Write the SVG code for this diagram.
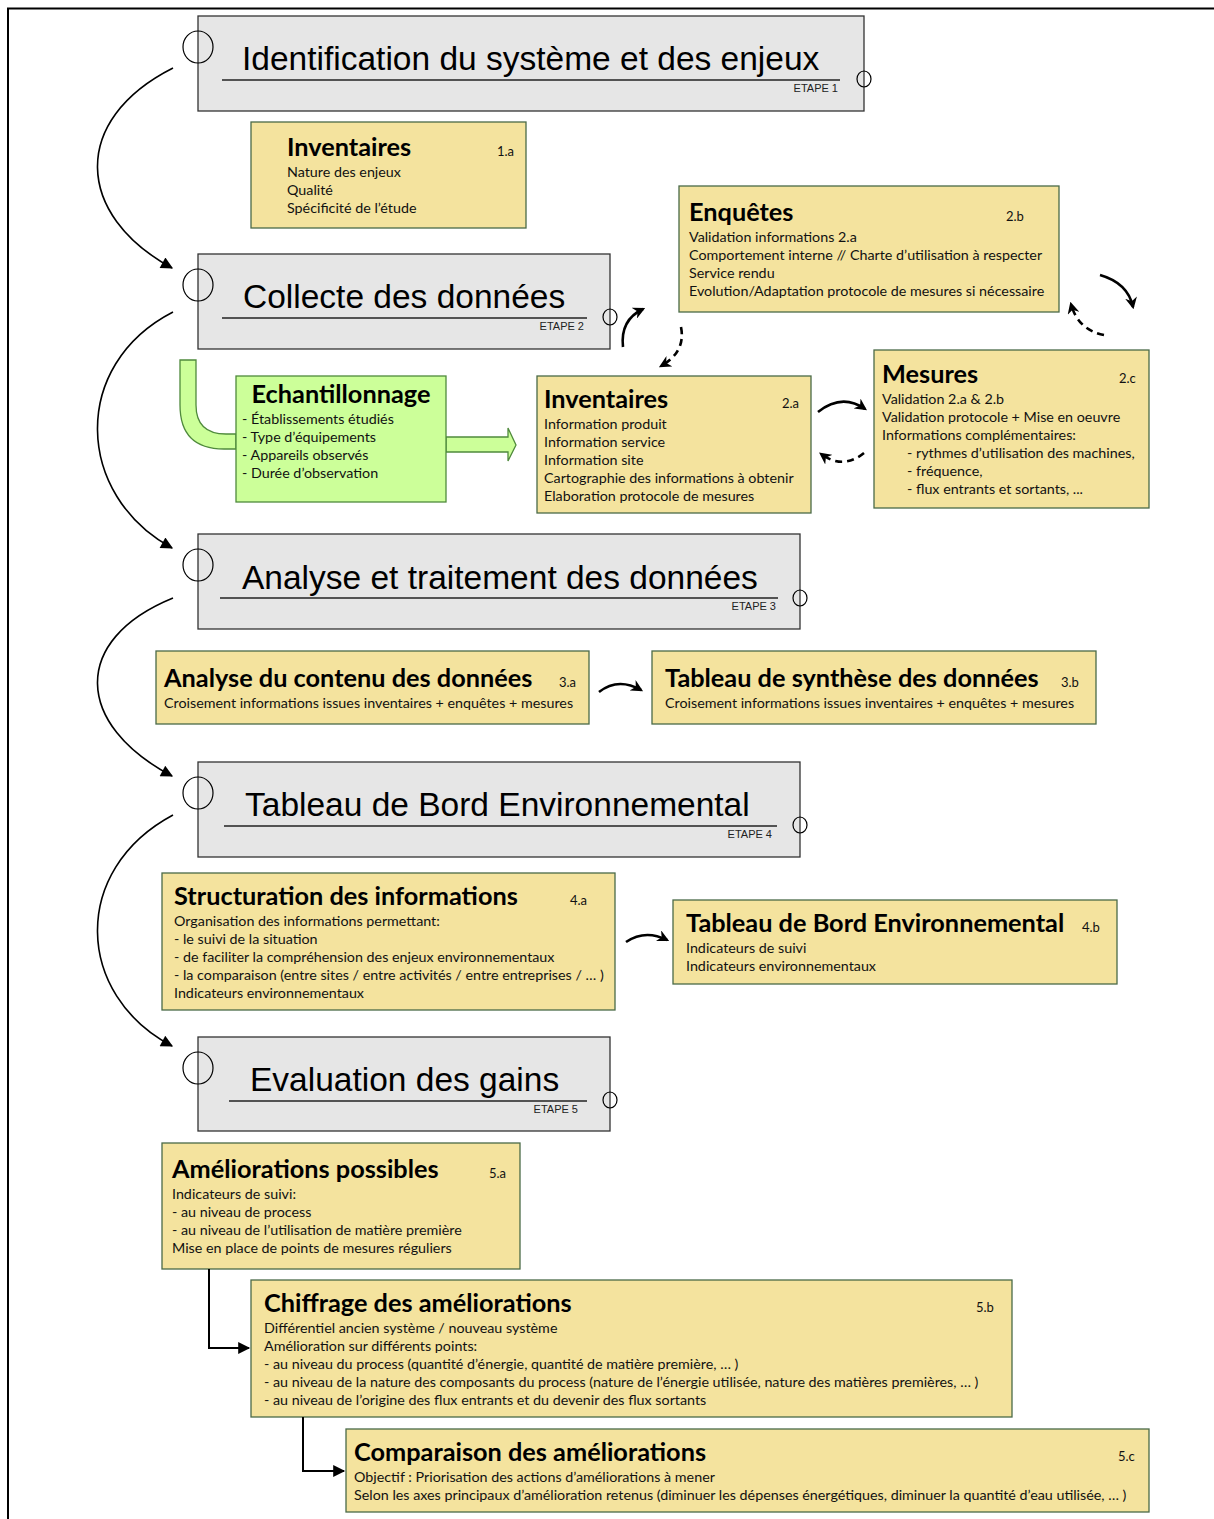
<svg xmlns="http://www.w3.org/2000/svg" width="1214" height="1519" viewBox="0 0 1214 1519">
<defs>
<style>
.step{fill:#e6e6e6;stroke:#333;stroke-width:1.3}
.ttl{font-family:"Liberation Sans",Arial,sans-serif;font-size:33.5px;fill:#000}
.etape{font-family:"Liberation Sans",Arial,sans-serif;font-size:11px;fill:#222;text-anchor:end}
.ul{stroke:#222;stroke-width:1.3}
.ring{fill:none;stroke:#000;stroke-width:1.2}
.box{fill:#f4e39e;stroke:#4a6a48;stroke-width:1.3}
.gbox{fill:#ccff99;stroke:#4f8a3c;stroke-width:1.3}
.h{font-family:Lato,"Open Sans",sans-serif;font-weight:bold;font-size:25.3px;fill:#000}
.num{font-family:Lato,"Open Sans",sans-serif;font-size:13px;fill:#111}
.t{font-family:Lato,"Open Sans",sans-serif;font-size:14.3px;fill:#111}
.big{fill:none;stroke:#000;stroke-width:1.6}
.cyc{fill:none;stroke:#000;stroke-width:2.6}
.dash{stroke-dasharray:7 5}
.elb{fill:none;stroke:#000;stroke-width:2}
</style>
<marker id="ah" viewBox="0 0 10 10" refX="9" refY="5" markerWidth="15" markerHeight="12" markerUnits="userSpaceOnUse" orient="auto"><path d="M0,0 L10,5 L0,10 z" fill="#000"/></marker>
<marker id="ahs" viewBox="0 0 10 10" refX="8" refY="5" markerWidth="12" markerHeight="12" markerUnits="userSpaceOnUse" orient="auto"><path d="M0,0 L10,5 L0,10 L3,5 z" fill="#000"/></marker>
</defs>
<rect width="1214" height="1519" fill="#fff"/>
<g id="frame"><path d="M7,8.5 H1214 M8,8 V1519" stroke="#000" stroke-width="2" fill="none"/></g>

<g id="step1">
<rect class="step" x="198" y="16" width="666" height="95"/>
<text class="ttl" x="242" y="70">Identification du système et des enjeux</text>
<line class="ul" x1="222" y1="80" x2="840" y2="80"/>
<text class="etape" x="838" y="92">ETAPE 1</text>
<ellipse class="ring" cx="198" cy="47" rx="15" ry="16"/>
<ellipse class="ring" cx="864" cy="79" rx="7" ry="8"/>
</g>
<g id="step2">
<rect class="step" x="198" y="254" width="412" height="95"/>
<text class="ttl" x="243" y="308">Collecte des données</text>
<line class="ul" x1="222" y1="318" x2="587" y2="318"/>
<text class="etape" x="584" y="330">ETAPE 2</text>
<ellipse class="ring" cx="198" cy="285" rx="15" ry="16"/>
<ellipse class="ring" cx="610" cy="317" rx="7" ry="8"/>
</g>
<g id="step3">
<rect class="step" x="198" y="534" width="602" height="95"/>
<text class="ttl" x="242" y="589">Analyse et traitement des données</text>
<line class="ul" x1="220" y1="598" x2="778" y2="598"/>
<text class="etape" x="776" y="610">ETAPE 3</text>
<ellipse class="ring" cx="198" cy="565" rx="15" ry="16"/>
<ellipse class="ring" cx="800" cy="598" rx="7" ry="8"/>
</g>
<g id="step4">
<rect class="step" x="198" y="762" width="602" height="95"/>
<text class="ttl" x="245" y="816">Tableau de Bord Environnemental</text>
<line class="ul" x1="224" y1="826" x2="777" y2="826"/>
<text class="etape" x="772" y="838">ETAPE 4</text>
<ellipse class="ring" cx="198" cy="793" rx="15" ry="16"/>
<ellipse class="ring" cx="800" cy="825" rx="7" ry="8"/>
</g>
<g id="step5">
<rect class="step" x="198" y="1037" width="412" height="94"/>
<text class="ttl" x="250" y="1091">Evaluation des gains</text>
<line class="ul" x1="229" y1="1101" x2="587" y2="1101"/>
<text class="etape" x="578" y="1113">ETAPE 5</text>
<ellipse class="ring" cx="198" cy="1068" rx="15" ry="16"/>
<ellipse class="ring" cx="610" cy="1100" rx="7" ry="8"/>
</g>

<g id="n1a">
<rect class="box" x="251" y="122" width="275" height="106"/>
<text class="h" x="287" y="156">Inventaires</text>
<text class="num" x="497" y="156">1.a</text>
<text class="t" x="287" y="177">Nature des enjeux</text>
<text class="t" x="287" y="195">Qualité</text>
<text class="t" x="287" y="213">Spécificité de l’étude</text>
</g>
<g id="n2b">
<rect class="box" x="679" y="186" width="380" height="126"/>
<text class="h" x="689" y="221">Enquêtes</text>
<text class="num" x="1006" y="221">2.b</text>
<text class="t" x="689" y="242">Validation informations 2.a</text>
<text class="t" x="689" y="260">Comportement interne // Charte d’utilisation à respecter</text>
<text class="t" x="689" y="278">Service rendu</text>
<text class="t" x="689" y="296">Evolution/Adaptation protocole de mesures si nécessaire</text>
</g>
<g id="n2a">
<rect class="box" x="537" y="376" width="274" height="137"/>
<text class="h" x="544" y="408">Inventaires</text>
<text class="num" x="782" y="408">2.a</text>
<text class="t" x="544" y="429">Information produit</text>
<text class="t" x="544" y="447">Information service</text>
<text class="t" x="544" y="465">Information site</text>
<text class="t" x="544" y="483">Cartographie des informations à obtenir</text>
<text class="t" x="544" y="501">Elaboration protocole de mesures</text>
</g>
<g id="n2c">
<rect class="box" x="874" y="350" width="275" height="158"/>
<text class="h" x="882" y="383">Mesures</text>
<text class="num" x="1119" y="383">2.c</text>
<text class="t" x="882" y="404">Validation 2.a &amp; 2.b</text>
<text class="t" x="882" y="422">Validation protocole + Mise en oeuvre</text>
<text class="t" x="882" y="440">Informations complémentaires:</text>
<text class="t" x="907" y="458">- rythmes d’utilisation des machines,</text>
<text class="t" x="907" y="476">- fréquence,</text>
<text class="t" x="907" y="494">- flux entrants et sortants, ...</text>
</g>
<g id="echantillonnage">
<path class="gbox" d="M180,360 L196,360 L196,405 Q196,434 226,434 L236,434 L236,449 L224,449 Q180,449 180,405 Z"/>
<path class="gbox" d="M446,437 L508,437 L508,428 L516,445 L508,461 L508,452 L446,452 Z"/>
<rect class="gbox" x="236" y="376" width="210" height="126"/>
<text class="h" x="341" y="403" text-anchor="middle">Echantillonnage</text>
<text class="t" x="242" y="424">- Établissements étudiés</text>
<text class="t" x="242" y="442">- Type d’équipements</text>
<text class="t" x="242" y="460">- Appareils observés</text>
<text class="t" x="242" y="478">- Durée d’observation</text>
</g>
<g id="n3a">
<rect class="box" x="156" y="651" width="433" height="73"/>
<text class="h" x="164" y="687">Analyse du contenu des données</text>
<text class="num" x="559" y="687">3.a</text>
<text class="t" x="164" y="708">Croisement informations issues inventaires + enquêtes + mesures</text>
</g>
<g id="n3b">
<rect class="box" x="652" y="651" width="444" height="73"/>
<text class="h" x="665" y="687">Tableau de synthèse des données</text>
<text class="num" x="1061" y="687">3.b</text>
<text class="t" x="665" y="708">Croisement informations issues inventaires + enquêtes + mesures</text>
</g>
<g id="n4a">
<rect class="box" x="162" y="873" width="453" height="137"/>
<text class="h" x="174" y="905">Structuration des informations</text>
<text class="num" x="570" y="905">4.a</text>
<text class="t" x="174" y="926">Organisation des informations permettant:</text>
<text class="t" x="174" y="944">- le suivi de la situation</text>
<text class="t" x="174" y="962">- de faciliter la compréhension des enjeux environnementaux</text>
<text class="t" x="174" y="980">- la comparaison (entre sites / entre activités / entre entreprises / … )</text>
<text class="t" x="174" y="998">Indicateurs environnementaux</text>
</g>
<g id="n4b">
<rect class="box" x="673" y="900" width="444" height="84"/>
<text class="h" x="686" y="932">Tableau de Bord Environnemental</text>
<text class="num" x="1082" y="932">4.b</text>
<text class="t" x="686" y="953">Indicateurs de suivi</text>
<text class="t" x="686" y="971">Indicateurs environnementaux</text>
</g>
<g id="n5a">
<rect class="box" x="162" y="1143" width="358" height="126"/>
<text class="h" x="172" y="1178">Améliorations possibles</text>
<text class="num" x="489" y="1178">5.a</text>
<text class="t" x="172" y="1199">Indicateurs de suivi:</text>
<text class="t" x="172" y="1217">- au niveau de process</text>
<text class="t" x="172" y="1235">- au niveau de l’utilisation de matière première</text>
<text class="t" x="172" y="1253">Mise en place de points de mesures réguliers</text>
</g>
<g id="n5b">
<rect class="box" x="251" y="1280" width="761" height="137"/>
<text class="h" x="264" y="1312">Chiffrage des améliorations</text>
<text class="num" x="976" y="1312">5.b</text>
<text class="t" x="264" y="1333">Différentiel ancien système / nouveau système</text>
<text class="t" x="264" y="1351">Amélioration sur différents points:</text>
<text class="t" x="264" y="1369">- au niveau du process (quantité d’énergie, quantité de matière première, … )</text>
<text class="t" x="264" y="1387">- au niveau de la nature des composants du process (nature de l’énergie utilisée, nature des matières premières, … )</text>
<text class="t" x="264" y="1405">- au niveau de l’origine des flux entrants et du devenir des flux sortants</text>
</g>
<g id="n5c">
<rect class="box" x="346" y="1429" width="803" height="83"/>
<text class="h" x="354" y="1461">Comparaison des améliorations</text>
<text class="num" x="1118" y="1461">5.c</text>
<text class="t" x="354" y="1482">Objectif : Priorisation des actions d’améliorations à mener</text>
<text class="t" x="354" y="1500">Selon les axes principaux d’amélioration retenus (diminuer les dépenses énergétiques, diminuer la quantité d’eau utilisée, … )</text>
</g>

<g id="connectors">
<path class="big" d="M173,68 C70,120 75,215 172,268" marker-end="url(#ah)"/>
<path class="big" d="M173,312 C70,365 75,495 172,548" marker-end="url(#ah)"/>
<path class="big" d="M173,598 C70,640 75,725 172,776" marker-end="url(#ah)"/>
<path class="big" d="M173,815 C70,870 75,995 172,1046" marker-end="url(#ah)"/>
<path class="cyc" d="M623,347 Q620,320 643,309" marker-end="url(#ahs)"/>
<path class="cyc dash" d="M681,327 Q686,352 661,366" marker-end="url(#ahs)"/>
<path class="cyc" d="M818,412 Q842,393 865,409" marker-end="url(#ahs)"/>
<path class="cyc dash" d="M864,453 Q843,470 821,454" marker-end="url(#ahs)"/>
<path class="cyc" d="M1100,275 Q1128,283 1133,307" marker-end="url(#ahs)"/>
<path class="cyc dash" d="M1104,335 Q1078,330 1071,304" marker-end="url(#ahs)"/>
<path class="cyc" d="M599,692 Q618,677 641,690" marker-end="url(#ahs)"/>
<path class="cyc" d="M626,942 Q645,929 667,940" marker-end="url(#ahs)"/>
<path class="elb" d="M209,1269 V1348 H249" marker-end="url(#ah)"/>
<path class="elb" d="M303,1417 V1471 H344" marker-end="url(#ah)"/>
</g>
</svg>
